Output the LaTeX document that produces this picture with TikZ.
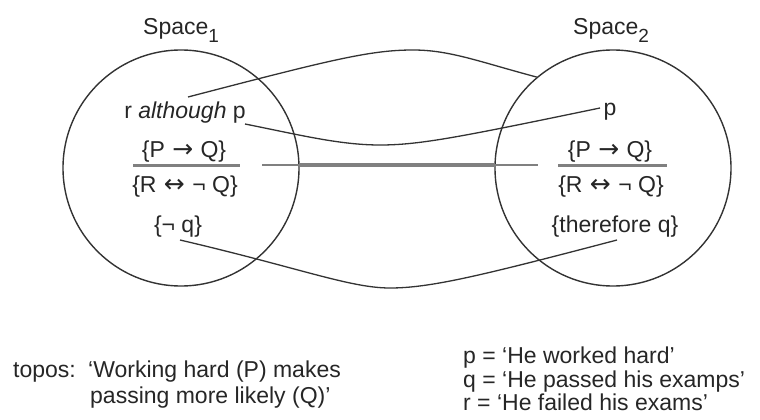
\documentclass[tikz,border=0pt]{standalone}
\usepackage{fontspec}
\setmainfont{Liberation Sans}
\newfontfamily\arrowfont{DejaVu Sans}
\begin{document}
\begin{tikzpicture}[x=1pt,y=-1pt,
  txt/.style={font=\fontsize{23}{27}\selectfont, inner sep=0pt, text=black!85},
  circ/.style={draw=black!80, line width=1.4pt, circle, minimum size=236pt, inner sep=0pt},
  conn/.style={draw=black!80, line width=1.3pt},
  bar/.style={draw=black!50, line width=3pt},
  thinbar/.style={draw=black!50, line width=2pt},
]
\useasboundingbox (0,0) rectangle (760,420);
\newcommand{\subone}[1]{\raisebox{-8pt}{\fontsize{19}{19}\selectfont #1}}
\newcommand{\arr}[1]{\hspace{1pt}{\arrowfont\fontsize{25}{25}\selectfont #1}\hspace{1pt}}
% circles
\node[circ] (s1) at (181,168) {};
\node[circ] (s2) at (613,168) {};
% titles
\node[txt, anchor=base west] (t1) at (143,35) {Space\subone{1}};
\node[txt, anchor=base west] (t2) at (573,35) {Space\subone{2}};
% left contents
\node[txt, anchor=base] (ra) at (185,118) {r \textit{although} p};
\node[txt, anchor=base] (l1) at (184,157) {\{P \arr{→} Q\}};
\node[txt, anchor=base] (l2) at (185,192) {\{R \arr{↔} ¬ Q\}};
\node[txt, anchor=base] (l3) at (178,232) {\{¬ q\}};
% right contents
\node[txt, anchor=base] (rp) at (610,115) {p};
\node[txt, anchor=base] (r1) at (610,157) {\{P \arr{→} Q\}};
\node[txt, anchor=base] (r2) at (611,192) {\{R \arr{↔} ¬ Q\}};
\node[txt, anchor=base] (r3) at (615,232) {\{therefore q\}};
% fraction bars
\coordinate (lb1) at (133,165); \coordinate (lb2) at (240,165);
\coordinate (rb1) at (558,165); \coordinate (rb2) at (667,165);
\draw[bar] (lb1) -- (lb2);
\draw[bar] (rb1) -- (rb2);
% connectors
\coordinate (c1a) at (188,97);
\coordinate (c1m) at (413,50);
\draw[conn] (c1a) .. controls (330,60) and (370,50) .. (c1m)
  .. controls (450,50) and (480,62) .. (s2.130);
\coordinate (c2a) at (245,124);
\coordinate (c2m) at (380,145);
\coordinate (c2b) at (600,108);
\draw[conn] (c2a) .. controls (300,135) and (340,145) .. (c2m)
  .. controls (420,145) and (460,137) .. (c2b);
\coordinate (c3a) at (262,165); \coordinate (c3b) at (538,165);
\coordinate (c3c) at (300,165); \coordinate (c3d) at (495,165);
\draw[thinbar] (c3a) -- (c3b);
\draw[bar, line width=4pt] (c3c) -- (c3d);
\coordinate (c4a) at (180,240);
\coordinate (c4m) at (390,288);
\coordinate (c4b) at (617,240);
\draw[conn] (c4a) .. controls (300,268) and (350,288) .. (c4m)
  .. controls (430,288) and (480,276) .. (c4b);
% bottom text
\node[txt, anchor=base west] (tp) at (13,377) {topos:};
\node[txt, anchor=base west] (tw1) at (88,377) {‘Working hard (P) makes};
\node[txt, anchor=base west] (tw2) at (90,403) {passing more likely (Q)’};
\node[txt, anchor=base west] (d1) at (463,363) {p = ‘He worked hard’};
\node[txt, anchor=base west] (d2) at (463,387) {q = ‘He passed his examps’};
\node[txt, anchor=base west] (d3) at (463,410) {r = ‘He failed his exams’};
\end{tikzpicture}
\end{document}
